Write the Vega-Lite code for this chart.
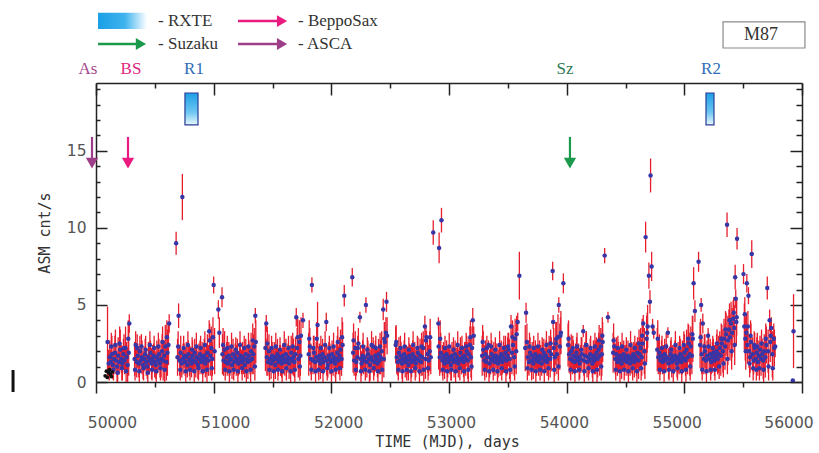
{
"$schema":"https://vega.github.io/schema/vega-lite/v6.json",
"width":706,"height":299,
"autosize":{"type":"none"},
"padding":{"left":96,"top":83,"right":17,"bottom":71},
"background":"white",
"config":{"view":{"stroke":null},"axis":{"grid":false,"domainColor":"#222","tickColor":"#222","domainWidth":1.5,"tickWidth":1.5,"zindex":1,"labelFlush":false,"labelOverlap":false}},
"datasets":{
"lc":[
{"t":50098,"v":2.6,"e":2.3},{"t":50108,"v":1.2,"e":0.9},{"t":50117,"v":1.6,"e":1.1},{"t":50126,"v":1.3,"e":0.8},{"t":50135,"v":1.8,"e":1.2},{"t":50144,"v":1.1,"e":0.9},{"t":50152,"v":1.5,"e":1.0},{"t":50161,"v":1.9,"e":1.1},{"t":50170,"v":1.4,"e":0.9},{"t":50179,"v":1.0,"e":1.0},{"t":50188,"v":1.7,"e":1.2},{"t":50197,"v":1.3,"e":0.8},{"t":50206,"v":2.1,"e":1.3},{"t":50215,"v":1.5,"e":0.9},{"t":50224,"v":1.2,"e":1.1},{"t":50233,"v":1.8,"e":1.0},{"t":50242,"v":1.4,"e":0.9},{"t":50251,"v":2.2,"e":1.4},{"t":50260,"v":1.6,"e":1.0},{"t":50269,"v":1.1,"e":1.1},{"t":50278,"v":1.9,"e":1.5},{"t":50283,"v":3.8,"e":0.6},
{"t":50328,"v":1.5,"e":1.1},{"t":50337,"v":2.4,"e":0.9},{"t":50346,"v":1.3,"e":1.0},{"t":50355,"v":1.7,"e":0.8},{"t":50364,"v":1.2,"e":0.9},{"t":50373,"v":2.0,"e":1.0},{"t":50382,"v":1.4,"e":0.8},{"t":50391,"v":1.6,"e":1.1},{"t":50400,"v":1.1,"e":0.9},{"t":50409,"v":1.5,"e":0.8},{"t":50418,"v":1.8,"e":1.0},{"t":50427,"v":1.3,"e":0.9},{"t":50436,"v":1.0,"e":0.8},{"t":50445,"v":1.6,"e":1.0},{"t":50454,"v":1.4,"e":0.9},{"t":50463,"v":1.9,"e":0.8},{"t":50472,"v":1.2,"e":1.0},{"t":50481,"v":1.5,"e":0.9},{"t":50490,"v":1.7,"e":0.8},{"t":50499,"v":1.3,"e":1.0},{"t":50508,"v":1.1,"e":0.9},{"t":50517,"v":1.6,"e":1.1},{"t":50526,"v":1.4,"e":0.8},{"t":50535,"v":1.8,"e":1.0},{"t":50544,"v":1.2,"e":0.9},{"t":50553,"v":1.5,"e":1.2},{"t":50562,"v":2.0,"e":1.1},{"t":50571,"v":1.4,"e":1.3},{"t":50580,"v":1.7,"e":1.0},{"t":50589,"v":2.3,"e":1.4},{"t":50598,"v":1.3,"e":1.2},{"t":50607,"v":1.9,"e":1.5},{"t":50616,"v":2.4,"e":1.3},{"t":50622,"v":3.8,"e":0.6},
{"t":50681,"v":9.0,"e":0.75},{"t":50693,"v":1.6,"e":1.2},{"t":50702,"v":4.3,"e":0.8},{"t":50711,"v":1.4,"e":1.0},{"t":50720,"v":1.9,"e":1.1},{"t":50729,"v":1.2,"e":0.9},{"t":50734,"v":12.0,"e":1.5},{"t":50740,"v":1.5,"e":1.0},{"t":50749,"v":1.7,"e":0.8},{"t":50758,"v":1.3,"e":0.9},{"t":50767,"v":1.6,"e":1.0},{"t":50776,"v":1.1,"e":0.8},{"t":50785,"v":1.8,"e":0.9},{"t":50794,"v":1.4,"e":1.0},{"t":50803,"v":1.5,"e":0.8},{"t":50812,"v":1.2,"e":0.9},{"t":50821,"v":1.7,"e":1.0},{"t":50830,"v":1.4,"e":0.8},{"t":50839,"v":1.9,"e":0.9},{"t":50848,"v":1.3,"e":1.0},{"t":50857,"v":1.6,"e":0.8},{"t":50866,"v":1.1,"e":0.9},{"t":50875,"v":1.5,"e":1.0},{"t":50884,"v":1.8,"e":0.9},{"t":50893,"v":1.3,"e":0.8},{"t":50902,"v":1.6,"e":1.0},{"t":50911,"v":1.4,"e":0.9},{"t":50920,"v":1.7,"e":1.1},{"t":50929,"v":1.2,"e":0.9},{"t":50938,"v":1.5,"e":1.0},{"t":50947,"v":1.9,"e":1.2},{"t":50956,"v":1.4,"e":1.0},{"t":50962,"v":3.3,"e":0.7},{"t":50971,"v":1.7,"e":1.3},{"t":50980,"v":2.2,"e":1.4},{"t":50989,"v":1.5,"e":1.1},{"t":51000,"v":6.3,"e":0.55},{"t":51008,"v":2.0,"e":1.5},{"t":51040,"v":4.7,"e":0.6},{"t":51048,"v":3.2,"e":1.0},
{"t":51071,"v":5.5,"e":0.65},{"t":51075,"v":1.8,"e":1.3},{"t":51084,"v":1.4,"e":1.0},{"t":51093,"v":2.1,"e":1.2},{"t":51102,"v":1.3,"e":0.9},{"t":51111,"v":1.6,"e":1.0},{"t":51120,"v":1.2,"e":0.8},{"t":51129,"v":1.7,"e":0.9},{"t":51138,"v":1.4,"e":1.0},{"t":51147,"v":1.5,"e":0.8},{"t":51156,"v":1.1,"e":0.9},{"t":51165,"v":1.8,"e":1.0},{"t":51174,"v":1.3,"e":0.8},{"t":51183,"v":1.6,"e":0.9},{"t":51192,"v":1.4,"e":1.0},{"t":51201,"v":1.9,"e":0.9},{"t":51210,"v":1.2,"e":0.8},{"t":51219,"v":1.5,"e":1.0},{"t":51228,"v":1.7,"e":0.9},{"t":51237,"v":1.3,"e":0.8},{"t":51246,"v":1.6,"e":1.0},{"t":51255,"v":1.4,"e":0.9},{"t":51264,"v":1.1,"e":0.8},{"t":51273,"v":1.8,"e":1.0},{"t":51282,"v":1.5,"e":0.9},{"t":51291,"v":1.3,"e":1.1},{"t":51300,"v":1.7,"e":1.0},{"t":51309,"v":1.4,"e":0.9},{"t":51318,"v":2.0,"e":1.2},{"t":51327,"v":1.5,"e":1.0},{"t":51336,"v":1.8,"e":1.3},{"t":51345,"v":2.3,"e":1.2},{"t":51354,"v":4.3,"e":0.5},{"t":51358,"v":2.6,"e":1.4},
{"t":51440,"v":2.2,"e":1.5},{"t":51447,"v":3.8,"e":0.55},{"t":51452,"v":1.6,"e":1.2},{"t":51461,"v":1.3,"e":0.9},{"t":51470,"v":2.0,"e":1.1},{"t":51479,"v":1.5,"e":0.8},{"t":51488,"v":1.2,"e":1.0},{"t":51497,"v":1.7,"e":0.9},{"t":51506,"v":1.4,"e":0.8},{"t":51515,"v":1.6,"e":1.0},{"t":51524,"v":1.1,"e":0.9},{"t":51533,"v":1.5,"e":0.8},{"t":51542,"v":1.8,"e":1.0},{"t":51551,"v":1.3,"e":0.9},{"t":51560,"v":1.6,"e":0.8},{"t":51569,"v":1.4,"e":1.0},{"t":51578,"v":1.2,"e":0.9},{"t":51587,"v":1.7,"e":0.8},{"t":51596,"v":1.5,"e":1.0},{"t":51605,"v":1.3,"e":0.9},{"t":51614,"v":1.8,"e":1.0},{"t":51623,"v":1.4,"e":0.8},{"t":51632,"v":1.6,"e":0.9},{"t":51641,"v":1.2,"e":1.0},{"t":51650,"v":1.5,"e":0.9},{"t":51659,"v":1.9,"e":1.1},{"t":51668,"v":1.4,"e":0.9},{"t":51677,"v":1.6,"e":1.2},{"t":51686,"v":1.3,"e":1.0},{"t":51695,"v":1.8,"e":1.1},{"t":51702,"v":4.2,"e":0.6},{"t":51710,"v":2.2,"e":1.3},{"t":51719,"v":1.5,"e":1.2},{"t":51728,"v":2.6,"e":1.4},{"t":51737,"v":1.7,"e":1.3},{"t":51759,"v":4.0,"e":0.5},
{"t":51808,"v":1.8,"e":1.4},{"t":51817,"v":2.3,"e":1.2},{"t":51826,"v":1.5,"e":1.0},{"t":51835,"v":6.3,"e":0.5},{"t":51844,"v":1.4,"e":0.9},{"t":51853,"v":1.9,"e":1.1},{"t":51862,"v":1.3,"e":0.8},{"t":51871,"v":1.6,"e":1.0},{"t":51883,"v":3.7,"e":1.5},{"t":51889,"v":1.4,"e":0.9},{"t":51898,"v":1.7,"e":0.8},{"t":51907,"v":1.2,"e":1.0},{"t":51916,"v":1.5,"e":0.9},{"t":51925,"v":1.8,"e":1.0},{"t":51934,"v":1.3,"e":0.8},{"t":51943,"v":1.6,"e":0.9},{"t":51957,"v":3.9,"e":0.6},{"t":51961,"v":1.4,"e":1.0},{"t":51970,"v":1.1,"e":0.8},{"t":51979,"v":1.7,"e":0.9},{"t":51988,"v":1.5,"e":1.0},{"t":51997,"v":1.3,"e":0.8},{"t":52006,"v":1.8,"e":0.9},{"t":52015,"v":1.4,"e":1.0},{"t":52024,"v":1.6,"e":0.8},{"t":52033,"v":1.2,"e":0.9},{"t":52042,"v":1.5,"e":1.0},{"t":52051,"v":1.9,"e":1.1},{"t":52060,"v":1.4,"e":0.9},{"t":52069,"v":1.7,"e":1.2},{"t":52078,"v":2.1,"e":1.3},{"t":52087,"v":1.5,"e":1.1},{"t":52096,"v":2.4,"e":1.5},{"t":52110,"v":5.6,"e":0.7},
{"t":52178,"v":6.8,"e":0.6},{"t":52185,"v":1.9,"e":1.3},{"t":52194,"v":1.4,"e":1.0},{"t":52203,"v":2.2,"e":1.1},{"t":52212,"v":1.3,"e":0.9},{"t":52221,"v":1.6,"e":1.0},{"t":52230,"v":2.5,"e":1.0},{"t":52243,"v":4.2,"e":0.35},{"t":52248,"v":1.5,"e":0.9},{"t":52257,"v":1.2,"e":0.8},{"t":52266,"v":1.7,"e":1.0},{"t":52275,"v":1.4,"e":0.9},{"t":52284,"v":1.6,"e":0.8},{"t":52294,"v":5.0,"e":0.5},{"t":52302,"v":1.3,"e":1.0},{"t":52311,"v":1.8,"e":0.9},{"t":52320,"v":1.5,"e":0.8},{"t":52329,"v":1.1,"e":1.0},{"t":52338,"v":1.6,"e":0.9},{"t":52347,"v":1.4,"e":0.8},{"t":52356,"v":2.3,"e":0.6},{"t":52365,"v":1.3,"e":0.9},{"t":52374,"v":1.7,"e":1.0},{"t":52383,"v":1.5,"e":0.8},{"t":52392,"v":1.2,"e":0.9},{"t":52401,"v":1.8,"e":1.0},{"t":52410,"v":1.4,"e":0.9},{"t":52419,"v":1.6,"e":1.1},{"t":52428,"v":2.0,"e":1.3},{"t":52441,"v":4.7,"e":0.7},{"t":52446,"v":1.5,"e":1.2},{"t":52455,"v":2.6,"e":1.3},{"t":52469,"v":5.2,"e":0.65},{"t":52474,"v":3.0,"e":1.2},
{"t":52547,"v":2.4,"e":1.2},{"t":52556,"v":1.6,"e":1.1},{"t":52565,"v":1.3,"e":0.9},{"t":52574,"v":1.9,"e":1.0},{"t":52583,"v":1.4,"e":0.8},{"t":52592,"v":1.7,"e":0.9},{"t":52601,"v":1.2,"e":1.0},{"t":52610,"v":1.5,"e":0.8},{"t":52619,"v":1.8,"e":0.9},{"t":52628,"v":1.3,"e":1.0},{"t":52637,"v":1.6,"e":0.8},{"t":52646,"v":1.4,"e":0.9},{"t":52655,"v":1.1,"e":1.0},{"t":52664,"v":1.7,"e":0.8},{"t":52673,"v":1.5,"e":0.9},{"t":52682,"v":1.3,"e":1.0},{"t":52691,"v":1.8,"e":0.9},{"t":52700,"v":1.4,"e":0.8},{"t":52709,"v":1.6,"e":1.0},{"t":52718,"v":1.2,"e":0.9},{"t":52727,"v":1.5,"e":0.8},{"t":52736,"v":1.9,"e":1.0},{"t":52745,"v":1.4,"e":0.9},{"t":52754,"v":1.7,"e":1.1},{"t":52763,"v":1.3,"e":0.9},{"t":52772,"v":1.6,"e":1.2},{"t":52781,"v":2.2,"e":1.1},{"t":52795,"v":3.6,"e":0.7},{"t":52800,"v":1.5,"e":1.3},{"t":52809,"v":2.9,"e":0.4},{"t":52818,"v":1.8,"e":1.2},{"t":52827,"v":1.4,"e":1.0},{"t":52836,"v":2.0,"e":1.3},{"t":52845,"v":1.6,"e":1.1},{"t":52866,"v":9.7,"e":0.8},{"t":52910,"v":3.8,"e":0.4},{"t":52916,"v":8.7,"e":1.0},{"t":52936,"v":10.5,"e":0.8},
{"t":52912,"v":2.3,"e":1.5},{"t":52921,"v":1.6,"e":1.2},{"t":52930,"v":1.9,"e":1.3},{"t":52944,"v":1.4,"e":1.0},{"t":52953,"v":1.7,"e":0.9},{"t":52962,"v":1.2,"e":1.0},{"t":52971,"v":1.5,"e":0.8},{"t":52980,"v":1.8,"e":0.9},{"t":52989,"v":1.3,"e":1.0},{"t":52998,"v":1.6,"e":0.8},{"t":53007,"v":1.4,"e":0.9},{"t":53016,"v":1.1,"e":1.0},{"t":53025,"v":1.7,"e":0.9},{"t":53034,"v":1.5,"e":0.8},{"t":53043,"v":1.3,"e":1.0},{"t":53052,"v":1.8,"e":0.9},{"t":53061,"v":1.4,"e":0.8},{"t":53070,"v":1.6,"e":1.0},{"t":53079,"v":1.2,"e":0.9},{"t":53088,"v":1.5,"e":0.8},{"t":53097,"v":1.9,"e":1.0},{"t":53106,"v":1.4,"e":0.9},{"t":53115,"v":1.6,"e":0.8},{"t":53124,"v":1.3,"e":1.0},{"t":53133,"v":1.7,"e":0.9},{"t":53142,"v":1.5,"e":1.1},{"t":53151,"v":2.0,"e":1.0},{"t":53160,"v":1.4,"e":1.2},{"t":53169,"v":1.8,"e":1.1},{"t":53178,"v":2.4,"e":1.2},{"t":53187,"v":1.6,"e":1.3},{"t":53196,"v":2.2,"e":1.4},{"t":53202,"v":4.0,"e":0.8},{"t":53210,"v":3.0,"e":0.6},
{"t":53282,"v":1.7,"e":1.3},{"t":53291,"v":2.1,"e":1.2},{"t":53300,"v":1.4,"e":1.0},{"t":53309,"v":1.8,"e":0.9},{"t":53318,"v":1.3,"e":1.0},{"t":53327,"v":1.6,"e":0.8},{"t":53336,"v":2.4,"e":0.3},{"t":53345,"v":1.2,"e":0.9},{"t":53354,"v":1.5,"e":1.0},{"t":53363,"v":1.8,"e":0.9},{"t":53372,"v":1.4,"e":0.8},{"t":53381,"v":1.6,"e":1.0},{"t":53390,"v":1.3,"e":0.9},{"t":53399,"v":1.7,"e":0.8},{"t":53408,"v":1.5,"e":1.0},{"t":53417,"v":1.2,"e":0.9},{"t":53426,"v":1.6,"e":0.8},{"t":53435,"v":1.4,"e":1.0},{"t":53444,"v":1.8,"e":0.9},{"t":53453,"v":1.3,"e":0.8},{"t":53462,"v":1.6,"e":1.0},{"t":53471,"v":1.5,"e":0.9},{"t":53480,"v":1.9,"e":1.1},{"t":53489,"v":1.4,"e":1.0},{"t":53498,"v":1.7,"e":1.2},{"t":53507,"v":2.1,"e":1.1},{"t":53516,"v":1.5,"e":1.3},{"t":53527,"v":3.6,"e":0.75},{"t":53535,"v":1.9,"e":1.4},{"t":53544,"v":2.4,"e":1.3},{"t":53553,"v":1.6,"e":1.2},{"t":53562,"v":2.8,"e":1.3},{"t":53571,"v":2.0,"e":1.5},{"t":53584,"v":3.9,"e":0.6},{"t":53598,"v":6.9,"e":1.55},
{"t":53648,"v":2.2,"e":1.5},{"t":53655,"v":4.5,"e":0.65},{"t":53662,"v":2.6,"e":1.2},{"t":53671,"v":1.6,"e":1.1},{"t":53680,"v":1.3,"e":0.9},{"t":53689,"v":1.9,"e":1.0},{"t":53698,"v":1.4,"e":0.8},{"t":53707,"v":1.7,"e":0.9},{"t":53716,"v":1.2,"e":1.0},{"t":53725,"v":1.5,"e":0.8},{"t":53734,"v":1.8,"e":0.9},{"t":53743,"v":1.4,"e":1.0},{"t":53752,"v":1.6,"e":0.8},{"t":53761,"v":1.3,"e":0.9},{"t":53770,"v":1.7,"e":1.0},{"t":53779,"v":1.5,"e":0.9},{"t":53788,"v":1.2,"e":0.8},{"t":53797,"v":1.6,"e":1.0},{"t":53806,"v":1.9,"e":0.9},{"t":53815,"v":1.4,"e":0.8},{"t":53824,"v":1.7,"e":1.0},{"t":53833,"v":1.3,"e":0.9},{"t":53842,"v":1.5,"e":1.1},{"t":53851,"v":2.0,"e":1.0},{"t":53860,"v":1.5,"e":1.2},{"t":53869,"v":1.8,"e":1.1},{"t":53881,"v":7.2,"e":0.6},{"t":53885,"v":3.9,"e":0.45},{"t":53890,"v":2.2,"e":1.3},{"t":53899,"v":1.6,"e":1.2},{"t":53908,"v":2.5,"e":1.4},{"t":53917,"v":1.8,"e":1.3},{"t":53926,"v":2.9,"e":1.5},{"t":53933,"v":5.0,"e":0.5},{"t":53942,"v":2.3,"e":1.5},{"t":53951,"v":3.2,"e":1.4},{"t":53972,"v":6.4,"e":0.65},
{"t":54012,"v":2.4,"e":1.4},{"t":54021,"v":1.8,"e":1.2},{"t":54030,"v":1.5,"e":1.0},{"t":54039,"v":2.0,"e":1.1},{"t":54048,"v":1.4,"e":0.9},{"t":54057,"v":1.7,"e":1.0},{"t":54066,"v":1.3,"e":0.8},{"t":54075,"v":1.6,"e":0.9},{"t":54084,"v":1.9,"e":1.0},{"t":54093,"v":1.4,"e":0.8},{"t":54102,"v":1.6,"e":0.9},{"t":54111,"v":1.2,"e":1.0},{"t":54120,"v":1.5,"e":0.9},{"t":54129,"v":1.8,"e":1.1},{"t":54141,"v":3.3,"e":0.4},{"t":54146,"v":1.4,"e":1.0},{"t":54155,"v":1.7,"e":0.9},{"t":54164,"v":2.4,"e":0.8},{"t":54173,"v":1.3,"e":1.0},{"t":54182,"v":1.6,"e":0.8},{"t":54191,"v":1.4,"e":0.9},{"t":54200,"v":1.8,"e":1.0},{"t":54209,"v":1.5,"e":0.8},{"t":54218,"v":1.2,"e":0.9},{"t":54227,"v":1.7,"e":1.0},{"t":54236,"v":1.4,"e":0.9},{"t":54245,"v":1.6,"e":1.1},{"t":54254,"v":1.9,"e":1.0},{"t":54263,"v":1.5,"e":1.2},{"t":54272,"v":2.1,"e":1.1},{"t":54281,"v":1.7,"e":1.3},{"t":54290,"v":2.3,"e":1.2},{"t":54299,"v":1.8,"e":1.4},{"t":54306,"v":2.6,"e":1.3},{"t":54323,"v":8.2,"e":0.5},{"t":54351,"v":4.2,"e":0.35},
{"t":54395,"v":1.9,"e":1.3},{"t":54404,"v":2.3,"e":0.6},{"t":54413,"v":1.5,"e":1.0},{"t":54422,"v":1.8,"e":1.1},{"t":54431,"v":1.3,"e":0.9},{"t":54440,"v":1.6,"e":1.0},{"t":54449,"v":1.4,"e":0.8},{"t":54458,"v":1.7,"e":0.9},{"t":54467,"v":1.2,"e":1.0},{"t":54476,"v":1.5,"e":0.8},{"t":54485,"v":1.8,"e":0.9},{"t":54494,"v":1.4,"e":1.0},{"t":54503,"v":1.6,"e":0.8},{"t":54512,"v":1.3,"e":0.9},{"t":54521,"v":1.7,"e":1.0},{"t":54530,"v":1.5,"e":0.9},{"t":54539,"v":1.2,"e":0.8},{"t":54548,"v":1.6,"e":1.0},{"t":54557,"v":1.4,"e":0.9},{"t":54566,"v":1.8,"e":0.8},{"t":54575,"v":1.3,"e":1.0},{"t":54584,"v":1.6,"e":0.9},{"t":54593,"v":1.5,"e":1.1},{"t":54602,"v":1.9,"e":1.0},{"t":54611,"v":1.4,"e":1.2},{"t":54620,"v":1.8,"e":1.1},{"t":54629,"v":2.2,"e":1.3},{"t":54638,"v":1.6,"e":1.2},{"t":54647,"v":2.5,"e":1.4},{"t":54651,"v":3.8,"e":0.55},{"t":54660,"v":2.0,"e":1.5},{"t":54671,"v":9.4,"e":1.0},{"t":54680,"v":2.8,"e":1.5},{"t":54688,"v":3.6,"e":1.4},{"t":54699,"v":6.9,"e":0.85},{"t":54708,"v":5.2,"e":0.75},{"t":54713,"v":13.4,"e":1.1},{"t":54722,"v":7.5,"e":0.95},{"t":54730,"v":3.6,"e":0.5},{"t":54740,"v":3.2,"e":0.4},
{"t":54770,"v":2.1,"e":1.4},{"t":54779,"v":1.6,"e":1.1},{"t":54788,"v":1.9,"e":1.2},{"t":54797,"v":1.4,"e":0.9},{"t":54806,"v":1.7,"e":1.0},{"t":54815,"v":1.3,"e":0.8},{"t":54824,"v":1.5,"e":0.9},{"t":54833,"v":1.8,"e":1.0},{"t":54842,"v":1.4,"e":0.8},{"t":54851,"v":1.6,"e":0.9},{"t":54860,"v":3.2,"e":0.35},{"t":54866,"v":1.2,"e":1.0},{"t":54875,"v":1.5,"e":0.8},{"t":54884,"v":1.8,"e":0.9},{"t":54893,"v":1.3,"e":1.0},{"t":54902,"v":1.6,"e":0.8},{"t":54911,"v":1.4,"e":0.9},{"t":54920,"v":1.7,"e":1.0},{"t":54929,"v":1.5,"e":0.8},{"t":54938,"v":1.2,"e":0.9},{"t":54947,"v":1.6,"e":1.0},{"t":54956,"v":1.4,"e":0.9},{"t":54965,"v":1.8,"e":1.0},{"t":54974,"v":1.3,"e":0.8},{"t":54983,"v":1.6,"e":1.1},{"t":54992,"v":1.5,"e":0.9},{"t":55001,"v":1.9,"e":1.2},{"t":55010,"v":1.4,"e":1.0},{"t":55019,"v":2.1,"e":1.3},{"t":55028,"v":1.6,"e":1.1},{"t":55037,"v":2.5,"e":1.2},{"t":55046,"v":1.8,"e":1.4},{"t":55055,"v":2.3,"e":1.3},{"t":55064,"v":1.7,"e":1.2},{"t":55072,"v":2.8,"e":1.5},{"t":55079,"v":6.4,"e":1.05},{"t":55090,"v":4.6,"e":0.7},
{"t":55121,"v":7.8,"e":0.65},{"t":55134,"v":2.4,"e":1.5},{"t":55143,"v":5.0,"e":0.45},{"t":55148,"v":1.8,"e":1.3},{"t":55157,"v":3.8,"e":0.65},{"t":55166,"v":1.5,"e":1.0},{"t":55175,"v":2.0,"e":1.1},{"t":55184,"v":1.4,"e":0.9},{"t":55193,"v":1.7,"e":1.0},{"t":55202,"v":3.0,"e":0.5},{"t":55211,"v":1.5,"e":0.9},{"t":55220,"v":1.8,"e":1.0},{"t":55229,"v":1.3,"e":0.8},{"t":55238,"v":1.6,"e":1.0},{"t":55247,"v":1.9,"e":0.9},{"t":55256,"v":1.4,"e":1.0},{"t":55265,"v":1.7,"e":0.9},{"t":55274,"v":2.0,"e":1.1},{"t":55283,"v":1.5,"e":1.0},{"t":55292,"v":1.8,"e":1.2},{"t":55301,"v":2.2,"e":1.1},{"t":55310,"v":1.7,"e":1.3},{"t":55319,"v":2.5,"e":1.2},{"t":55328,"v":2.0,"e":1.4},{"t":55337,"v":2.8,"e":1.3},{"t":55346,"v":2.3,"e":1.5},{"t":55355,"v":3.1,"e":1.4},{"t":55363,"v":10.2,"e":0.8},{"t":55370,"v":2.7,"e":1.6},{"t":55379,"v":3.4,"e":1.3},{"t":55388,"v":2.9,"e":1.5},{"t":55397,"v":3.8,"e":1.4},{"t":55406,"v":3.2,"e":1.6},{"t":55415,"v":4.1,"e":1.2},{"t":55424,"v":3.5,"e":1.5},{"t":55432,"v":6.8,"e":0.8},{"t":55437,"v":5.4,"e":0.6},{"t":55442,"v":3.9,"e":1.5},{"t":55448,"v":9.3,"e":0.7},
{"t":55503,"v":7.0,"e":0.65},{"t":55510,"v":3.6,"e":1.5},{"t":55518,"v":2.8,"e":1.4},{"t":55527,"v":3.2,"e":1.3},{"t":55531,"v":6.4,"e":0.6},{"t":55536,"v":2.4,"e":1.2},{"t":55545,"v":5.6,"e":0.55},{"t":55550,"v":2.0,"e":1.1},{"t":55559,"v":1.6,"e":1.0},{"t":55566,"v":2.6,"e":1.2},{"t":55573,"v":8.3,"e":0.9},{"t":55580,"v":1.8,"e":1.1},{"t":55589,"v":1.4,"e":0.9},{"t":55598,"v":2.2,"e":1.0},{"t":55607,"v":1.5,"e":0.8},{"t":55616,"v":1.9,"e":1.0},{"t":55625,"v":1.3,"e":0.9},{"t":55634,"v":1.7,"e":1.0},{"t":55643,"v":2.1,"e":0.9},{"t":55652,"v":1.5,"e":1.1},{"t":55661,"v":1.8,"e":1.0},{"t":55670,"v":1.4,"e":1.2},{"t":55679,"v":2.0,"e":1.1},{"t":55688,"v":1.6,"e":1.3},{"t":55697,"v":2.4,"e":1.2},{"t":55705,"v":6.1,"e":0.75},{"t":55712,"v":2.0,"e":1.4},{"t":55725,"v":4.0,"e":0.7},{"t":55730,"v":2.6,"e":1.3},{"t":55739,"v":3.5,"e":0.7},{"t":55748,"v":1.8,"e":1.5},{"t":55760,"v":2.8,"e":1.0},{"t":55772,"v":2.3,"e":0.7},
{"t":55922,"v":0.1,"e":0.1},{"t":55928,"v":3.3,"e":2.4},
{"t":50112,"v":0.7,"e":0.6},{"t":50130,"v":2.3,"e":0.9},{"t":50148,"v":0.8,"e":0.7},{"t":50165,"v":2.4,"e":1.0},{"t":50184,"v":0.6,"e":0.6},{"t":50201,"v":2.5,"e":1.1},{"t":50220,"v":0.9,"e":0.8},{"t":50238,"v":2.2,"e":0.9},{"t":50256,"v":0.7,"e":0.7},{"t":50274,"v":2.8,"e":1.2},
{"t":50332,"v":0.8,"e":0.7},{"t":50350,"v":2.2,"e":0.9},{"t":50368,"v":0.7,"e":0.7},{"t":50386,"v":2.3,"e":0.8},{"t":50404,"v":0.9,"e":0.8},{"t":50422,"v":2.1,"e":0.9},{"t":50440,"v":0.6,"e":0.6},{"t":50458,"v":2.4,"e":0.9},{"t":50476,"v":0.8,"e":0.7},{"t":50494,"v":2.2,"e":0.8},{"t":50512,"v":0.7,"e":0.7},{"t":50530,"v":2.3,"e":0.9},{"t":50548,"v":0.9,"e":0.8},{"t":50566,"v":2.6,"e":1.0},{"t":50584,"v":0.8,"e":0.8},{"t":50602,"v":2.9,"e":1.1},
{"t":50698,"v":2.3,"e":1.0},{"t":50716,"v":0.8,"e":0.7},{"t":50745,"v":2.2,"e":0.8},{"t":50763,"v":0.7,"e":0.7},{"t":50781,"v":2.4,"e":0.9},{"t":50799,"v":0.8,"e":0.7},{"t":50817,"v":2.1,"e":0.8},{"t":50835,"v":0.7,"e":0.7},{"t":50853,"v":2.3,"e":0.9},{"t":50871,"v":0.9,"e":0.8},{"t":50889,"v":2.2,"e":0.8},{"t":50907,"v":0.7,"e":0.7},{"t":50925,"v":2.4,"e":0.9},{"t":50943,"v":0.8,"e":0.8},{"t":50966,"v":2.7,"e":1.1},{"t":50984,"v":0.9,"e":0.8},{"t":50994,"v":2.9,"e":1.3},
{"t":51080,"v":2.4,"e":1.1},{"t":51098,"v":0.8,"e":0.7},{"t":51116,"v":2.2,"e":0.8},{"t":51134,"v":0.7,"e":0.7},{"t":51152,"v":2.3,"e":0.9},{"t":51170,"v":0.8,"e":0.7},{"t":51188,"v":2.1,"e":0.8},{"t":51206,"v":0.7,"e":0.7},{"t":51224,"v":2.4,"e":0.9},{"t":51242,"v":0.9,"e":0.8},{"t":51260,"v":2.2,"e":0.8},{"t":51278,"v":0.7,"e":0.7},{"t":51296,"v":2.3,"e":0.9},{"t":51314,"v":0.8,"e":0.8},{"t":51332,"v":2.7,"e":1.1},{"t":51350,"v":1.0,"e":0.9},
{"t":51456,"v":2.5,"e":1.1},{"t":51474,"v":0.8,"e":0.7},{"t":51492,"v":2.2,"e":0.8},{"t":51510,"v":0.7,"e":0.7},{"t":51528,"v":2.3,"e":0.9},{"t":51546,"v":0.8,"e":0.7},{"t":51564,"v":2.1,"e":0.8},{"t":51582,"v":0.7,"e":0.7},{"t":51600,"v":2.4,"e":0.9},{"t":51618,"v":0.9,"e":0.8},{"t":51636,"v":2.2,"e":0.8},{"t":51654,"v":0.7,"e":0.7},{"t":51672,"v":2.3,"e":0.9},{"t":51690,"v":0.8,"e":0.8},{"t":51714,"v":2.9,"e":1.2},{"t":51732,"v":1.0,"e":0.9},{"t":51742,"v":3.0,"e":1.2},
{"t":51812,"v":2.8,"e":1.2},{"t":51830,"v":0.8,"e":0.7},{"t":51848,"v":2.2,"e":0.8},{"t":51866,"v":0.7,"e":0.7},{"t":51876,"v":2.8,"e":1.1},{"t":51893,"v":0.8,"e":0.7},{"t":51911,"v":2.2,"e":0.8},{"t":51929,"v":0.7,"e":0.7},{"t":51947,"v":2.4,"e":0.9},{"t":51965,"v":0.9,"e":0.8},{"t":51983,"v":2.2,"e":0.8},{"t":52001,"v":0.7,"e":0.7},{"t":52019,"v":2.3,"e":0.9},{"t":52037,"v":0.8,"e":0.8},{"t":52055,"v":2.6,"e":1.0},{"t":52073,"v":0.9,"e":0.8},{"t":52091,"v":2.9,"e":1.3},
{"t":52189,"v":2.7,"e":1.1},{"t":52207,"v":0.8,"e":0.7},{"t":52225,"v":2.2,"e":0.8},{"t":52252,"v":0.7,"e":0.7},{"t":52270,"v":2.3,"e":0.9},{"t":52289,"v":0.8,"e":0.7},{"t":52306,"v":2.1,"e":0.8},{"t":52324,"v":0.7,"e":0.7},{"t":52342,"v":2.4,"e":0.9},{"t":52360,"v":0.9,"e":0.8},{"t":52378,"v":2.2,"e":0.8},{"t":52396,"v":0.7,"e":0.7},{"t":52414,"v":2.3,"e":0.9},{"t":52432,"v":0.8,"e":0.8},{"t":52450,"v":2.8,"e":1.1},{"t":52464,"v":3.2,"e":1.0},
{"t":52551,"v":2.6,"e":1.1},{"t":52569,"v":0.8,"e":0.7},{"t":52587,"v":2.2,"e":0.8},{"t":52605,"v":0.7,"e":0.7},{"t":52623,"v":2.3,"e":0.9},{"t":52641,"v":0.8,"e":0.7},{"t":52659,"v":2.1,"e":0.8},{"t":52677,"v":0.7,"e":0.7},{"t":52695,"v":2.4,"e":0.9},{"t":52713,"v":0.9,"e":0.8},{"t":52731,"v":2.2,"e":0.8},{"t":52749,"v":0.7,"e":0.7},{"t":52767,"v":2.3,"e":0.9},{"t":52786,"v":0.8,"e":0.8},{"t":52804,"v":2.7,"e":1.0},{"t":52822,"v":0.9,"e":0.8},{"t":52840,"v":2.9,"e":1.2},
{"t":52925,"v":2.8,"e":1.2},{"t":52948,"v":0.8,"e":0.7},{"t":52966,"v":2.2,"e":0.8},{"t":52984,"v":0.7,"e":0.7},{"t":53002,"v":2.3,"e":0.9},{"t":53020,"v":0.8,"e":0.7},{"t":53038,"v":2.1,"e":0.8},{"t":53056,"v":0.7,"e":0.7},{"t":53074,"v":2.4,"e":0.9},{"t":53092,"v":0.9,"e":0.8},{"t":53110,"v":2.2,"e":0.8},{"t":53128,"v":0.7,"e":0.7},{"t":53146,"v":2.3,"e":0.9},{"t":53164,"v":0.8,"e":0.8},{"t":53182,"v":2.9,"e":1.1},{"t":53191,"v":1.0,"e":0.9},
{"t":53286,"v":2.6,"e":1.1},{"t":53304,"v":0.8,"e":0.7},{"t":53322,"v":2.2,"e":0.8},{"t":53340,"v":0.7,"e":0.7},{"t":53358,"v":2.3,"e":0.9},{"t":53376,"v":0.8,"e":0.7},{"t":53394,"v":2.1,"e":0.8},{"t":53412,"v":0.7,"e":0.7},{"t":53430,"v":2.4,"e":0.9},{"t":53448,"v":0.9,"e":0.8},{"t":53466,"v":2.2,"e":0.8},{"t":53484,"v":0.7,"e":0.7},{"t":53502,"v":2.3,"e":0.9},{"t":53520,"v":0.8,"e":0.8},{"t":53540,"v":2.9,"e":1.1},{"t":53558,"v":1.0,"e":0.9},{"t":53575,"v":3.1,"e":1.2},
{"t":53666,"v":0.9,"e":0.8},{"t":53684,"v":2.3,"e":0.9},{"t":53702,"v":0.8,"e":0.7},{"t":53720,"v":2.2,"e":0.8},{"t":53738,"v":0.7,"e":0.7},{"t":53756,"v":2.3,"e":0.9},{"t":53774,"v":0.8,"e":0.7},{"t":53792,"v":2.1,"e":0.8},{"t":53810,"v":0.7,"e":0.7},{"t":53828,"v":2.4,"e":0.9},{"t":53846,"v":0.9,"e":0.8},{"t":53864,"v":2.5,"e":0.9},{"t":53894,"v":0.8,"e":0.8},{"t":53912,"v":2.8,"e":1.1},{"t":53930,"v":1.0,"e":0.9},{"t":53947,"v":3.0,"e":1.2},
{"t":54016,"v":2.8,"e":1.2},{"t":54034,"v":0.8,"e":0.7},{"t":54052,"v":2.2,"e":0.8},{"t":54070,"v":0.7,"e":0.7},{"t":54088,"v":2.3,"e":0.9},{"t":54106,"v":0.8,"e":0.7},{"t":54124,"v":2.1,"e":0.8},{"t":54150,"v":0.7,"e":0.7},{"t":54168,"v":2.4,"e":0.9},{"t":54186,"v":0.9,"e":0.8},{"t":54204,"v":2.2,"e":0.8},{"t":54222,"v":0.7,"e":0.7},{"t":54240,"v":2.3,"e":0.9},{"t":54258,"v":0.8,"e":0.8},{"t":54276,"v":2.7,"e":1.0},{"t":54294,"v":1.0,"e":0.9},{"t":54303,"v":3.0,"e":1.2},
{"t":54399,"v":2.7,"e":1.1},{"t":54417,"v":0.8,"e":0.7},{"t":54435,"v":2.2,"e":0.8},{"t":54453,"v":0.7,"e":0.7},{"t":54471,"v":2.3,"e":0.9},{"t":54489,"v":0.8,"e":0.7},{"t":54507,"v":2.1,"e":0.8},{"t":54525,"v":0.7,"e":0.7},{"t":54543,"v":2.4,"e":0.9},{"t":54561,"v":0.9,"e":0.8},{"t":54579,"v":2.2,"e":0.8},{"t":54597,"v":0.7,"e":0.7},{"t":54615,"v":2.5,"e":0.9},{"t":54633,"v":0.9,"e":0.8},{"t":54642,"v":3.0,"e":1.1},{"t":54665,"v":1.2,"e":1.0},{"t":54684,"v":3.2,"e":1.3},
{"t":54774,"v":2.8,"e":1.2},{"t":54792,"v":0.8,"e":0.7},{"t":54810,"v":2.2,"e":0.8},{"t":54828,"v":0.7,"e":0.7},{"t":54846,"v":2.3,"e":0.9},{"t":54870,"v":0.8,"e":0.7},{"t":54888,"v":2.1,"e":0.8},{"t":54906,"v":0.7,"e":0.7},{"t":54924,"v":2.4,"e":0.9},{"t":54942,"v":0.9,"e":0.8},{"t":54960,"v":2.2,"e":0.8},{"t":54978,"v":0.7,"e":0.7},{"t":54996,"v":2.4,"e":0.9},{"t":55014,"v":0.8,"e":0.8},{"t":55032,"v":2.8,"e":1.0},{"t":55050,"v":1.0,"e":0.9},{"t":55068,"v":3.1,"e":1.2},
{"t":55138,"v":2.9,"e":1.2},{"t":55152,"v":0.8,"e":0.7},{"t":55170,"v":2.3,"e":0.8},{"t":55188,"v":0.7,"e":0.7},{"t":55206,"v":2.3,"e":0.9},{"t":55224,"v":0.8,"e":0.7},{"t":55242,"v":2.2,"e":0.8},{"t":55260,"v":0.8,"e":0.7},{"t":55278,"v":2.5,"e":0.9},{"t":55296,"v":1.0,"e":0.8},{"t":55314,"v":2.8,"e":1.0},{"t":55332,"v":1.2,"e":0.9},{"t":55350,"v":3.4,"e":1.2},{"t":55366,"v":1.5,"e":1.0},{"t":55384,"v":4.0,"e":1.1},{"t":55402,"v":2.0,"e":1.2},{"t":55420,"v":4.5,"e":1.0},{"t":55428,"v":2.4,"e":1.3},{"t":55445,"v":4.2,"e":1.2},
{"t":55514,"v":4.4,"e":1.1},{"t":55522,"v":2.0,"e":1.2},{"t":55540,"v":3.6,"e":1.0},{"t":55555,"v":1.2,"e":0.9},{"t":55563,"v":3.0,"e":1.0},{"t":55585,"v":0.9,"e":0.8},{"t":55594,"v":2.4,"e":0.9},{"t":55612,"v":0.8,"e":0.7},{"t":55620,"v":2.3,"e":0.9},{"t":55638,"v":0.9,"e":0.8},{"t":55656,"v":2.5,"e":0.9},{"t":55674,"v":0.8,"e":0.8},{"t":55692,"v":2.8,"e":1.0},{"t":55716,"v":1.0,"e":0.9},{"t":55734,"v":3.0,"e":1.1},{"t":55752,"v":0.9,"e":0.8},{"t":55765,"v":2.2,"e":1.2}
],
"early":[{"t":50078,"v":0.4},{"t":50088,"v":0.7},{"t":50096,"v":0.3},{"t":50105,"v":0.6},{"t":50114,"v":0.8},{"t":50122,"v":0.5},{"t":50131,"v":0.35},{"t":50140,"v":0.65}],
"obs":[{"t":50756,"t2":50867,"v":16.68,"v2":18.75},{"t":55184,"t2":55252,"v":16.68,"v2":18.75}],
"ann":[{"t":49932,"v":20.31,"lab":"As","m":"ASCA"},{"t":50297,"v":20.31,"lab":"BS","m":"BeppoSAX"},{"t":50833,"v":20.31,"lab":"R1","m":"RXTE"},{"t":53986,"v":20.31,"lab":"Sz","m":"Suzaku"},{"t":55227,"v":20.31,"lab":"R2","m":"RXTE"}],
"down":[{"t":49966,"m":"ASCA"},{"t":50272,"m":"BeppoSAX"},{"t":54028,"m":"Suzaku"}],
"legarrow":[{"t":50017,"t2":50382,"v":21.93,"m":"Suzaku"},{"t":51207,"t2":51581,"v":23.42,"m":"BeppoSAX"},{"t":51207,"t2":51581,"v":21.93,"m":"ASCA"}],
"legtext":[{"t":50527,"v":23.42,"lab":"- RXTE"},{"t":51717,"v":23.42,"lab":"- BeppoSax"},{"t":50527,"v":21.93,"lab":"- Suzaku"},{"t":51717,"v":21.93,"lab":"- ASCA"}],
"legbox":[{"t":50017,"t2":50433,"v":22.9,"v2":23.95}],
"srcbox":[{"t":55329,"t2":56025,"v":21.67,"v2":23.36,"lab":"M87","tc":55651,"vc":22.52}],
"mark":[{"t":49295,"v":-0.65,"v2":0.78}]
},
"resolve":{"axis":{"x":"independent","y":"independent"},"scale":{"color":"independent"}},
"layer":[
{"data":{"name":"lc"},
 "mark":{"type":"errorbar","color":"#e61e2d","thickness":1.3,"clip":true},
 "encoding":{
  "x":{"field":"t","type":"quantitative","scale":{"domain":[50000,56000],"nice":false,"zero":false},
   "axis":{"orient":"bottom","values":[50000,51000,52000,53000,54000,55000,56000],"tickSize":11,"format":"d","labelFont":"DejaVu Sans","labelFontSize":15.5,"labelColor":"#555","labelPadding":22,"labelBaseline":"top","labelOffset":{"condition":[{"test":"datum.value==50000","value":16},{"test":"datum.value==51000","value":11.6},{"test":"datum.value==52000","value":6.8},{"test":"datum.value==53000","value":2},{"test":"datum.value==54000","value":-2.8},{"test":"datum.value==55000","value":-7.6},{"test":"datum.value==56000","value":-13.5}],"value":0},"title":"TIME (MJD), days","titleFont":"DejaVu Sans Mono","titleFontSize":15,"titleFontWeight":"normal","titleColor":"#333","titleX":351,"titleY":59,"titleAlign":"center","titleBaseline":"middle"}},
  "y":{"field":"v","type":"quantitative","scale":{"domain":[0,19.4],"nice":false,"zero":false},
   "axis":{"orient":"left","values":[0,5,10,15],"ticks":false,"labelPadding":10,"labelFont":"DejaVu Sans","labelFontSize":15.5,"labelColor":"#555","title":"ASM cnt/s","titleFont":"DejaVu Sans Mono","titleFontSize":15,"titleFontWeight":"normal","titleColor":"#333","titleX":-52,"titleY":149.5,"titleAngle":-90,"titleAlign":"center","titleBaseline":"middle"}},
  "yError":{"field":"e"}}},
{"data":{"name":"lc"},
 "mark":{"type":"point","filled":true,"size":20,"color":"#3636a8","opacity":1,"clip":true},
 "encoding":{
  "x":{"field":"t","type":"quantitative","scale":{"domain":[50000,56000],"nice":false,"zero":false},
   "axis":{"orient":"bottom","values":[50500,51500,52500,53500,54500,55500],"tickSize":5,"labels":false,"domain":false,"title":null}},
  "y":{"field":"v","type":"quantitative","scale":{"domain":[0,19.4],"nice":false,"zero":false},
   "axis":{"orient":"left","values":[0,5,10,15],"tickSize":-11,"labels":false,"domain":false,"title":null}}}},
{"data":{"name":"early"},
 "mark":{"type":"point","filled":true,"size":14,"color":"#111111","opacity":1},
 "encoding":{
  "x":{"field":"t","type":"quantitative","scale":{"domain":[50000,56000],"nice":false,"zero":false},
   "axis":{"orient":"top","values":[50000,51000,52000,53000,54000,55000,56000],"tickSize":-12,"labels":false,"domain":true,"title":null}},
  "y":{"field":"v","type":"quantitative","scale":{"domain":[0,19.4],"nice":false,"zero":false},
   "axis":{"orient":"left","values":[1,2,3,4,6,7,8,9,11,12,13,14,16,17,18,19],"tickSize":-4,"labels":false,"domain":false,"title":null}}}},
{"data":{"name":"obs"},
 "mark":{"type":"rect","stroke":"#2a3c96","strokeWidth":1.2,"fill":{"gradient":"linear","x1":0,"y1":0,"x2":0,"y2":1,"stops":[{"offset":0,"color":"#1f9fe6"},{"offset":0.6,"color":"#6cc6f2"},{"offset":1,"color":"#eaf7fd"}]}},
 "encoding":{
  "x":{"field":"t","type":"quantitative","scale":{"domain":[50000,56000],"nice":false,"zero":false},
   "axis":{"orient":"top","values":[50500,51500,52500,53500,54500,55500],"tickSize":-5,"labels":false,"domain":false,"title":null}},
  "x2":{"field":"t2"},
  "y":{"field":"v","type":"quantitative","scale":{"domain":[0,19.4],"nice":false,"zero":false},
   "axis":{"orient":"right","values":[0,5,10,15],"tickSize":-12,"labels":false,"domain":true,"title":null}},
  "y2":{"field":"v2"}}},
{"data":{"name":"ann"},
 "mark":{"type":"text","font":"Liberation Serif","fontSize":17,"align":"center","baseline":"middle"},
 "encoding":{
  "x":{"field":"t","type":"quantitative","scale":{"domain":[50000,56000],"nice":false,"zero":false},"axis":null},
  "y":{"field":"v","type":"quantitative","scale":{"domain":[0,19.4],"nice":false,"zero":false},
   "axis":{"orient":"right","values":[1,2,3,4,6,7,8,9,11,12,13,14,16,17,18,19],"tickSize":-6,"labels":false,"domain":false,"title":null}},
  "text":{"field":"lab"},
  "color":{"field":"m","type":"nominal","scale":{"domain":["ASCA","BeppoSAX","RXTE","Suzaku"],"range":["#a4488e","#e0267f","#2f6db8","#2f7a57"]},"legend":null}}},
{"data":{"name":"down"},
 "mark":{"type":"rule","strokeWidth":2.2},
 "encoding":{
  "x":{"field":"t","type":"quantitative","scale":{"domain":[50000,56000],"nice":false,"zero":false},"axis":null},
  "y":{"datum":15.9,"type":"quantitative","scale":{"domain":[0,19.4],"nice":false,"zero":false},"axis":null},
  "y2":{"datum":14.5},
  "color":{"field":"m","type":"nominal","scale":{"domain":["ASCA","BeppoSAX","RXTE","Suzaku"],"range":["#9c3f88","#ea1a80","#1aa0e6","#1c9a4c"]},"legend":null}}},
{"data":{"name":"down"},
 "mark":{"type":"point","shape":"triangle-down","filled":true,"size":150,"opacity":1},
 "encoding":{
  "x":{"field":"t","type":"quantitative","scale":{"domain":[50000,56000],"nice":false,"zero":false},"axis":null},
  "y":{"datum":14.2,"type":"quantitative","scale":{"domain":[0,19.4],"nice":false,"zero":false},"axis":null},
  "color":{"field":"m","type":"nominal","scale":{"domain":["ASCA","BeppoSAX","RXTE","Suzaku"],"range":["#9c3f88","#ea1a80","#1aa0e6","#1c9a4c"]},"legend":null}}},
{"data":{"name":"legarrow"},
 "mark":{"type":"rule","strokeWidth":2.5},
 "encoding":{
  "x":{"field":"t","type":"quantitative","scale":{"domain":[50000,56000],"nice":false,"zero":false},"axis":null},
  "x2":{"field":"t2"},
  "y":{"field":"v","type":"quantitative","scale":{"domain":[0,19.4],"nice":false,"zero":false},"axis":null},
  "color":{"field":"m","type":"nominal","scale":{"domain":["ASCA","BeppoSAX","RXTE","Suzaku"],"range":["#9c3f88","#ea1a80","#1aa0e6","#1c9a4c"]},"legend":null}}},
{"data":{"name":"legarrow"},
 "mark":{"type":"point","shape":"triangle-right","filled":true,"size":140,"opacity":1},
 "encoding":{
  "x":{"field":"t2","type":"quantitative","scale":{"domain":[50000,56000],"nice":false,"zero":false},"axis":null},
  "y":{"field":"v","type":"quantitative","scale":{"domain":[0,19.4],"nice":false,"zero":false},"axis":null},
  "color":{"field":"m","type":"nominal","scale":{"domain":["ASCA","BeppoSAX","RXTE","Suzaku"],"range":["#9c3f88","#ea1a80","#1aa0e6","#1c9a4c"]},"legend":null}}},
{"data":{"name":"legbox"},
 "mark":{"type":"rect","fill":{"gradient":"linear","x1":0,"y1":0,"x2":1,"y2":0,"stops":[{"offset":0,"color":"#1a9fe6"},{"offset":0.55,"color":"#3fb3ee"},{"offset":1,"color":"#ffffff"}]}},
 "encoding":{
  "x":{"field":"t","type":"quantitative","scale":{"domain":[50000,56000],"nice":false,"zero":false},"axis":null},
  "x2":{"field":"t2"},
  "y":{"field":"v","type":"quantitative","scale":{"domain":[0,19.4],"nice":false,"zero":false},"axis":null},
  "y2":{"field":"v2"}}},
{"data":{"name":"legtext"},
 "mark":{"type":"text","font":"Liberation Serif","fontSize":17,"align":"left","baseline":"middle","color":"#333333"},
 "encoding":{
  "x":{"field":"t","type":"quantitative","scale":{"domain":[50000,56000],"nice":false,"zero":false},"axis":null},
  "y":{"field":"v","type":"quantitative","scale":{"domain":[0,19.4],"nice":false,"zero":false},"axis":null},
  "text":{"field":"lab"}}},
{"data":{"name":"srcbox"},
 "mark":{"type":"rect","fill":"white","stroke":"#8a8a8a","strokeWidth":1.2},
 "encoding":{
  "x":{"field":"t","type":"quantitative","scale":{"domain":[50000,56000],"nice":false,"zero":false},"axis":null},
  "x2":{"field":"t2"},
  "y":{"field":"v","type":"quantitative","scale":{"domain":[0,19.4],"nice":false,"zero":false},"axis":null},
  "y2":{"field":"v2"}}},
{"data":{"name":"srcbox"},
 "mark":{"type":"text","font":"Liberation Serif","fontSize":18,"align":"center","baseline":"middle","color":"#333333"},
 "encoding":{
  "x":{"field":"tc","type":"quantitative","scale":{"domain":[50000,56000],"nice":false,"zero":false},"axis":null},
  "y":{"field":"vc","type":"quantitative","scale":{"domain":[0,19.4],"nice":false,"zero":false},"axis":null},
  "text":{"field":"lab"}}},
{"data":{"name":"mark"},
 "mark":{"type":"rule","strokeWidth":3,"color":"#111111"},
 "encoding":{
  "x":{"field":"t","type":"quantitative","scale":{"domain":[50000,56000],"nice":false,"zero":false},"axis":null},
  "y":{"field":"v","type":"quantitative","scale":{"domain":[0,19.4],"nice":false,"zero":false},"axis":null},
  "y2":{"field":"v2"}}}
]
}
